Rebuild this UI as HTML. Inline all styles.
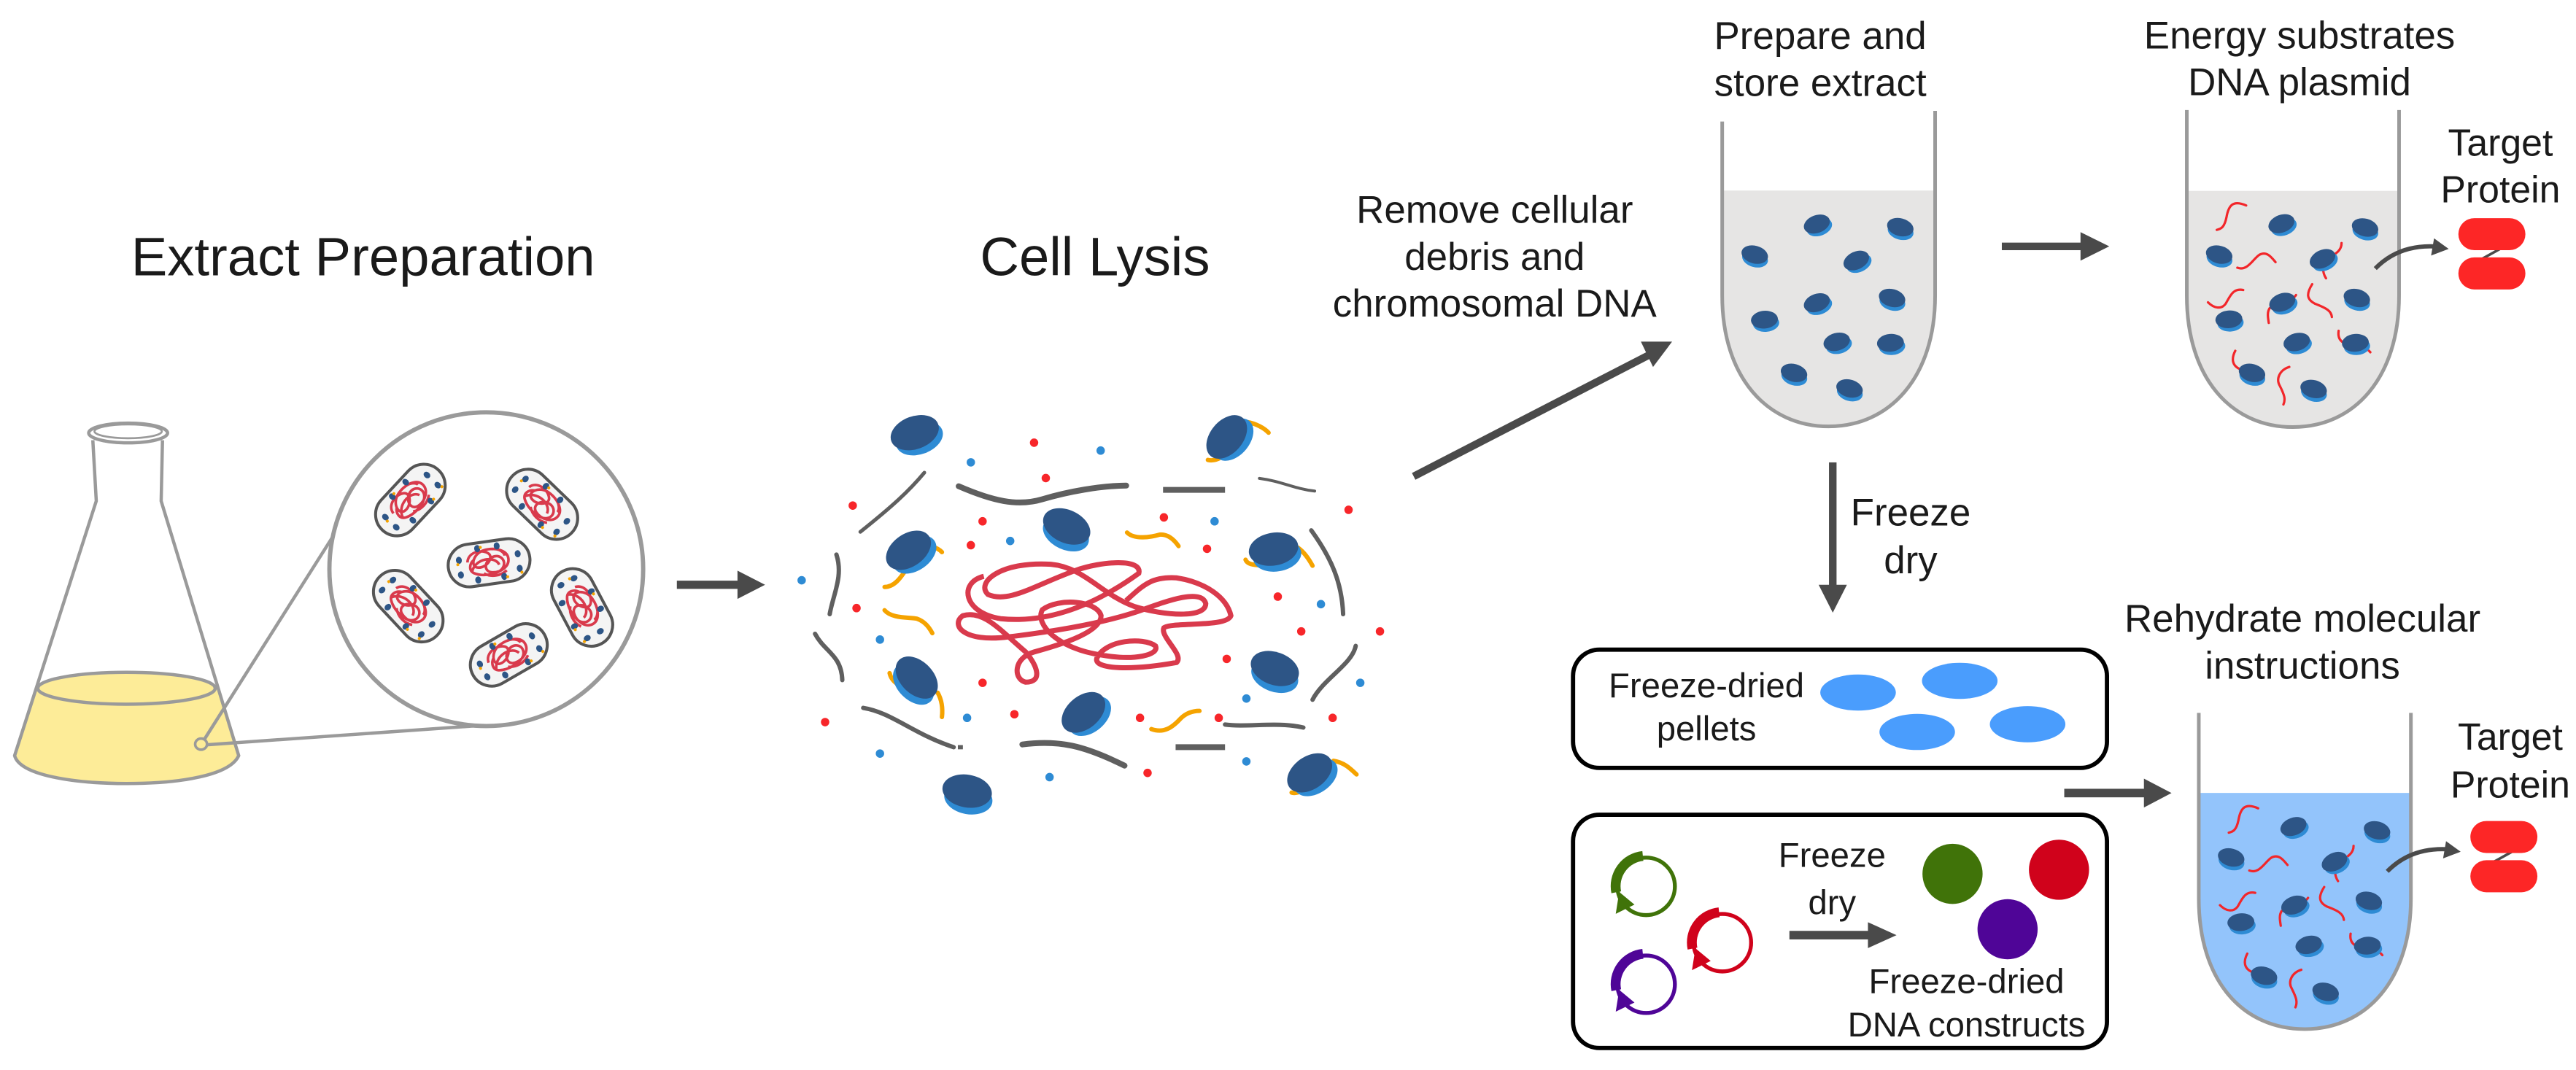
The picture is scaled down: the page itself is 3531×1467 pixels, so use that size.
<!DOCTYPE html>
<html><head><meta charset="utf-8"><style>
html,body{margin:0;padding:0;background:#fff;}
svg{display:block;}
text{font-family:"Liberation Sans",Arial,sans-serif;fill:#1a1a1a;}
</style></head><body>
<svg width="3531" height="1467" viewBox="0 0 1568 651.4" preserveAspectRatio="none" xmlns="http://www.w3.org/2000/svg" xmlns:xlink="http://www.w3.org/1999/xlink">
<defs>
<g id="rb"><ellipse cx="0.8" cy="2.3" rx="8" ry="5.2" fill="#2e8bd4"/><ellipse cx="0" cy="0" rx="8.2" ry="5.4" fill="#2d5586"/></g>
<g id="cap">
<rect x="-25" y="-13" width="50" height="26" rx="13" fill="#f4f4f4" stroke="#555" stroke-width="1.8"/>
<path d="M-13,-2 C-12,-8 -4,-9 0,-6 C4,-3 -2,3 -7,2 C-12,1 -9,-7 -2,-8 C5,-9 12,-6 12,-1 C12,4 6,7 1,6 C-4,5 -3,-1 2,-3 C7,-5 11,0 8,4 C5,8 -5,8 -10,5 C-13,3 -12,-1 -9,-3 M-4,6 C0,9 6,9 10,6 M3,-8 C7,-8 10,-5 10,-3 M-11,4 C-8,-4 4,-4 6,2" fill="none" stroke="#d93a4c" stroke-width="1.6"/>
<g fill="#2d5586"><ellipse cx="-18" cy="-4" rx="1.8" ry="2.2"/><ellipse cx="-18" cy="5" rx="1.8" ry="2.2"/><ellipse cx="-6" cy="-9.5" rx="1.8" ry="2.2"/><ellipse cx="8" cy="9.5" rx="1.8" ry="2.2"/><ellipse cx="18" cy="-3" rx="1.8" ry="2.2"/><ellipse cx="18" cy="6" rx="1.8" ry="2.2"/><ellipse cx="-8" cy="9.5" rx="1.8" ry="2.2"/><ellipse cx="6" cy="-9.5" rx="1.8" ry="2.2"/></g>
<g fill="#f5a300"><circle cx="-19" cy="-1.5" r="0.9"/><circle cx="19" cy="8.5" r="0.9"/><circle cx="-4" cy="-10" r="0.9"/><circle cx="10" cy="10" r="0.9"/></g>
</g>
<g id="pl">
<circle cx="0" cy="0" r="17.5" fill="none" stroke="currentColor" stroke-width="2.4"/>
<path d="M-2,-18.5 A18.5,18.5 0 0 0 -18.2,3.6" fill="none" stroke="currentColor" stroke-width="6"/>
<polygon points="-18.5,16.7 -16.4,3.4 -7.1,11.1" fill="currentColor"/>
</g>
<g id="tc">
<g transform="translate(1287.7,0) scale(0.1787)" fill="none" stroke="#f2262a" stroke-width="8" stroke-linecap="round">
<path d="M445,700 C400,680 385,700 378,740 C370,780 355,780 345,783"/>
<path d="M415,912 C450,925 470,880 490,868 C515,855 530,875 545,893"/>
<path d="M770,828 C770,850 755,865 720,880 C700,890 705,930 717,948"/>
<path d="M435,988 C400,980 390,1010 375,1035 C360,1055 335,1050 315,1030"/>
<path d="M670,968 C650,1000 650,1020 680,1035 C720,1050 735,1060 737,1080"/>
<path d="M615,1005 C600,1030 540,1040 525,1050 C515,1065 520,1085 522,1100"/>
<path d="M760,1127 C755,1160 775,1175 820,1178 C845,1180 860,1190 868,1200"/>
<path d="M408,1195 C395,1220 395,1245 425,1258 C460,1270 480,1290 480,1305"/>
<path d="M592,1250 C560,1260 545,1290 560,1315 C575,1345 580,1360 572,1378"/>
</g>
<use xlink:href="#rb" transform="translate(1388.7,136.2) rotate(-20)"/>
<use xlink:href="#rb" transform="translate(1439.6,138.5) rotate(15)"/>
<use xlink:href="#rb" transform="translate(1350.8,155) rotate(15)"/>
<use xlink:href="#rb" transform="translate(1413.7,157.6) rotate(-25)"/>
<use xlink:href="#rb" transform="translate(1389.2,184) rotate(-20)"/>
<use xlink:href="#rb" transform="translate(1434.6,181.4) rotate(15)"/>
<use xlink:href="#rb" transform="translate(1356.7,194.4) rotate(-5)"/>
<use xlink:href="#rb" transform="translate(1398,208.2) rotate(-15)"/>
<use xlink:href="#rb" transform="translate(1433.7,208.7) rotate(-5)"/>
<use xlink:href="#rb" transform="translate(1370.8,227) rotate(15)"/>
<use xlink:href="#rb" transform="translate(1408.3,236.8) rotate(15)"/>
<path d="M1445.8,163.5 Q1460,149 1482,150" fill="none" stroke="#4a4a4a" stroke-width="2.6"/>
<polygon points="1490.5,151.5 1481.6,145.1 1479.8,155.6" fill="#4a4a4a"/>
<line x1="1521.8" y1="151.5" x2="1511" y2="157.5" stroke="#4a4a4a" stroke-width="1.6"/>
<rect x="1496.4" y="132.8" width="40.8" height="19.5" rx="9.75" fill="#fd2626"/>
<rect x="1496.4" y="156.7" width="40.8" height="19.5" rx="9.75" fill="#fd2626"/>
</g>
</defs>

<text x="221" y="167.6" font-size="33" text-anchor="middle">Extract Preparation</text>
<text x="666.5" y="167.6" font-size="33" text-anchor="middle">Cell Lysis</text>

<path d="M22.7,419 A54,9.7 0 0 1 131.8,419 L145.3,460 C140,472 110,477 77,477 C45,477 12,472 8.9,460 Z" fill="#fdec98"/>
<ellipse cx="77" cy="419" rx="54" ry="9.7" fill="none" stroke="#9a9a9a" stroke-width="2"/>
<path d="M56.5,268 L58.6,305 L8.9,460 C12,472 45,477 77,477 C110,477 140,472 145.3,460 L98.1,305 L98.9,268" fill="none" stroke="#9a9a9a" stroke-width="2"/>
<ellipse cx="78" cy="263.6" rx="24" ry="6" fill="#fff" stroke="#9a9a9a" stroke-width="2"/>
<ellipse cx="78" cy="262.6" rx="20.5" ry="4.2" fill="none" stroke="#9a9a9a" stroke-width="1.2"/>
<ellipse cx="122.4" cy="453" rx="3.6" ry="3.4" fill="none" stroke="#9a9a9a" stroke-width="1.6"/>
<line x1="124.6" y1="449.8" x2="206.5" y2="320.5" stroke="#9a9a9a" stroke-width="2"/>
<line x1="126" y1="453.4" x2="288" y2="442" stroke="#9a9a9a" stroke-width="2"/>
<circle cx="296" cy="346.5" r="95.5" fill="#fff" stroke="#9a9a9a" stroke-width="2.6"/>
<use xlink:href="#cap" transform="translate(249.8,304.4) rotate(-47)"/>
<use xlink:href="#cap" transform="translate(330,307) rotate(44)"/>
<use xlink:href="#cap" transform="translate(297.7,342.6) rotate(-8)"/>
<use xlink:href="#cap" transform="translate(248.5,369) rotate(47)"/>
<use xlink:href="#cap" transform="translate(354.3,369.8) rotate(62)"/>
<use xlink:href="#cap" transform="translate(309.7,398.7) rotate(-30)"/>

<rect x="412" y="353.5" width="38" height="5" fill="#4a4a4a"/>
<polygon points="448.9,347.4 465.7,356 448.9,364.6" fill="#4a4a4a"/>

<g transform="translate(466.3,222) scale(0.2549,0.1841)">
<g fill="none" stroke="#5f5f5f" stroke-linecap="round">
<path vector-effect="non-scaling-stroke" stroke-width="5" d="M378,357 C340,420 300,470 225,553"/>
<path vector-effect="non-scaling-stroke" stroke-width="8" d="M460,402 C540,450 600,470 660,445 C720,420 800,400 860,400"/>
<path vector-effect="non-scaling-stroke" stroke-width="8" stroke-linecap="butt" d="M948,414 L1096,414"/>
<path vector-effect="non-scaling-stroke" stroke-width="4" d="M1178,376 C1230,385 1260,410 1310,418"/>
<path vector-effect="non-scaling-stroke" stroke-width="6" d="M1302,548 C1350,640 1375,720 1378,825"/>
<path vector-effect="non-scaling-stroke" stroke-width="6" d="M168,628 C185,700 160,760 152,825"/>
<path vector-effect="non-scaling-stroke" stroke-width="6" d="M117,890 C140,950 180,960 182,1043"/>
<path vector-effect="non-scaling-stroke" stroke-width="6" d="M1408,930 C1400,990 1330,1040 1305,1108"/>
<path vector-effect="non-scaling-stroke" stroke-width="6" d="M232,1135 C300,1150 350,1220 448,1265"/>
<path vector-effect="non-scaling-stroke" stroke-width="8" d="M612,1256 C700,1240 760,1260 856,1326"/>
<path vector-effect="non-scaling-stroke" stroke-width="8" stroke-linecap="butt" d="M978,1265 L1096,1265"/>
<path vector-effect="non-scaling-stroke" stroke-width="6" d="M1096,1190 C1150,1200 1220,1180 1283,1200"/>
</g>
<rect x="458" y="1258" width="12" height="14" fill="#5f5f5f"/>
<path d="M520,700 C460,720 470,820 560,840 C700,860 820,760 890,690 C900,640 800,650 740,680 C640,730 580,790 530,760 C500,720 560,650 680,660 C760,670 800,760 880,800 C950,830 1050,840 1050,790 C1040,740 960,780 900,810 C820,850 700,880 580,900 C470,920 440,860 470,830 C520,810 560,880 620,950 C650,1000 660,1050 620,1050 C590,1040 590,970 640,950 C720,920 800,880 800,830 C790,780 700,770 660,810 C640,860 700,940 800,960 C880,980 940,960 930,930 C900,900 810,910 790,970 C780,1010 880,1010 980,985 C1000,960 940,900 950,870 C970,850 1100,870 1110,830 C1100,770 1050,720 980,705 C920,700 900,730 860,780" fill="none" stroke="#d93a4c" stroke-width="7" vector-effect="non-scaling-stroke"/>
<g fill="none" stroke="#f5a300" stroke-linecap="round">
<path vector-effect="non-scaling-stroke" stroke-width="6" d="M862,555 C880,580 920,570 940,562 C960,560 975,580 985,600"/>
<path vector-effect="non-scaling-stroke" stroke-width="6" d="M283,812 C300,840 340,835 360,840 C380,850 390,870 397,888"/>
<path vector-effect="non-scaling-stroke" stroke-width="6" d="M920,1205 C950,1220 970,1200 990,1170 C1005,1150 1020,1145 1035,1145"/>
<path vector-effect="non-scaling-stroke" stroke-width="6" d="M1150,190 C1170,195 1190,210 1200,225"/>
<path vector-effect="non-scaling-stroke" stroke-width="6" d="M1105,285 C1090,310 1070,320 1055,315"/>
<path vector-effect="non-scaling-stroke" stroke-width="6" d="M395,600 C405,605 415,612 420,620"/>
<path vector-effect="non-scaling-stroke" stroke-width="6" d="M340,665 C320,710 305,735 283,735"/>
<path vector-effect="non-scaling-stroke" stroke-width="6" d="M295,1020 C300,1050 320,1065 340,1070"/>
<path vector-effect="non-scaling-stroke" stroke-width="6" d="M410,1085 C420,1110 422,1140 420,1165"/>
<path vector-effect="non-scaling-stroke" stroke-width="6" d="M1270,605 C1285,620 1295,640 1305,665"/>
<path vector-effect="non-scaling-stroke" stroke-width="6" d="M1145,645 C1150,665 1180,665 1200,660"/>
<path vector-effect="non-scaling-stroke" stroke-width="6" d="M1355,1310 C1380,1315 1395,1335 1410,1355"/>
<path vector-effect="non-scaling-stroke" stroke-width="6" d="M1300,1390 C1285,1410 1265,1420 1255,1415"/>
</g>
<g fill="#f7262a">
<ellipse cx="640" cy="258" rx="10" ry="14"/><ellipse cx="668" cy="375" rx="10" ry="14"/><ellipse cx="207" cy="466" rx="10" ry="14"/><ellipse cx="517" cy="518" rx="10" ry="14"/><ellipse cx="489" cy="597" rx="10" ry="14"/><ellipse cx="950" cy="505" rx="10" ry="14"/><ellipse cx="1053" cy="609" rx="10" ry="14"/><ellipse cx="1391" cy="480" rx="10" ry="14"/><ellipse cx="216" cy="805" rx="10" ry="14"/><ellipse cx="1222" cy="767" rx="10" ry="14"/><ellipse cx="1278" cy="882" rx="10" ry="14"/><ellipse cx="1466" cy="882" rx="10" ry="14"/><ellipse cx="1100" cy="973" rx="10" ry="14"/><ellipse cx="517" cy="1052" rx="10" ry="14"/><ellipse cx="141" cy="1182" rx="10" ry="14"/><ellipse cx="593" cy="1156" rx="10" ry="14"/><ellipse cx="893" cy="1168" rx="10" ry="14"/><ellipse cx="1081" cy="1168" rx="10" ry="14"/><ellipse cx="1353" cy="1168" rx="10" ry="14"/><ellipse cx="911" cy="1350" rx="10" ry="14"/>
</g>
<g fill="#2e8bd4">
<ellipse cx="489" cy="323" rx="10" ry="14"/><ellipse cx="799" cy="284" rx="10" ry="14"/><ellipse cx="583" cy="583" rx="10" ry="14"/><ellipse cx="1071" cy="518" rx="10" ry="14"/><ellipse cx="85" cy="713" rx="10" ry="14"/><ellipse cx="1325" cy="792" rx="10" ry="14"/><ellipse cx="272" cy="909" rx="10" ry="14"/><ellipse cx="1419" cy="1052" rx="10" ry="14"/><ellipse cx="1147" cy="1104" rx="10" ry="14"/><ellipse cx="480" cy="1168" rx="10" ry="14"/><ellipse cx="272" cy="1286" rx="10" ry="14"/><ellipse cx="677" cy="1364" rx="10" ry="14"/><ellipse cx="1147" cy="1312" rx="10" ry="14"/>
</g>
</g>
<use xlink:href="#rb" transform="translate(556.8,263.4) rotate(-20) scale(1.85)"/>
<use xlink:href="#rb" transform="translate(746.7,266) rotate(-50) scale(1.85)"/>
<use xlink:href="#rb" transform="translate(553,335) rotate(-35) scale(1.85)"/>
<use xlink:href="#rb" transform="translate(649.3,320.5) rotate(25) scale(1.85)"/>
<use xlink:href="#rb" transform="translate(775.2,334.3) rotate(-10) scale(1.85)"/>
<use xlink:href="#rb" transform="translate(558,412.5) rotate(45) scale(1.85)"/>
<use xlink:href="#rb" transform="translate(659.5,433.7) rotate(-40) scale(1.85)"/>
<use xlink:href="#rb" transform="translate(776,407) rotate(20) scale(1.85)"/>
<use xlink:href="#rb" transform="translate(588.7,481.6) rotate(10) scale(1.85)"/>
<use xlink:href="#rb" transform="translate(797.2,470.5) rotate(-35) scale(1.85)"/>

<text x="909.8" y="135.6" font-size="23.5" text-anchor="middle">Remove cellular</text>
<text x="909.8" y="164.2" font-size="23.5" text-anchor="middle">debris and</text>
<text x="909.8" y="192.7" font-size="23.5" text-anchor="middle">chromosomal DNA</text>
<line x1="860.5" y1="290" x2="1004" y2="216" stroke="#4a4a4a" stroke-width="4.6"/>
<polygon points="1017.8,208 998.8,208 1006.2,223.4" fill="#4a4a4a"/>

<text x="1108" y="29.7" font-size="23.5" text-anchor="middle">Prepare and</text>
<text x="1108" y="58.5" font-size="23.5" text-anchor="middle">store extract</text>
<path d="M1048.3,116 V180 C1048.3,230 1076,259.6 1113.1,259.6 C1150,259.6 1177.9,230 1177.9,180 V116 Z" fill="#e6e5e4"/>
<path d="M1048.3,74 V180 C1048.3,230 1076,259.6 1113.1,259.6 C1150,259.6 1177.9,230 1177.9,180 V67.5" fill="none" stroke="#9a9a9a" stroke-width="2.2"/>
<use xlink:href="#rb" transform="translate(1105.9,136.4) rotate(-20)"/>
<use xlink:href="#rb" transform="translate(1156.7,138.3) rotate(15)"/>
<use xlink:href="#rb" transform="translate(1068.1,155) rotate(15)"/>
<use xlink:href="#rb" transform="translate(1129.9,158.6) rotate(-25)"/>
<use xlink:href="#rb" transform="translate(1105.9,184.3) rotate(-20)"/>
<use xlink:href="#rb" transform="translate(1151.7,181.4) rotate(15)"/>
<use xlink:href="#rb" transform="translate(1074,194.6) rotate(-5)"/>
<use xlink:href="#rb" transform="translate(1118,208.1) rotate(-15)"/>
<use xlink:href="#rb" transform="translate(1150.7,208.7) rotate(-5)"/>
<use xlink:href="#rb" transform="translate(1092,227) rotate(15)"/>
<use xlink:href="#rb" transform="translate(1125.8,236.5) rotate(15)"/>

<rect x="1218.5" y="147.7" width="48" height="4.6" fill="#4a4a4a"/>
<polygon points="1266.4,141.3 1283.9,150 1266.4,158.7" fill="#4a4a4a"/>

<text x="1399.7" y="29.5" font-size="23.5" text-anchor="middle">Energy substrates</text>
<text x="1399.7" y="58" font-size="23.5" text-anchor="middle">DNA plasmid</text>
<path d="M1331.1,116.2 V180 C1331.1,230 1358,260 1395.7,260 C1433,260 1460.3,230 1460.3,180 V116.2 Z" fill="#e6e5e4"/>
<path d="M1331.1,67 V180 C1331.1,230 1358,260 1395.7,260 C1433,260 1460.3,230 1460.3,180 V67" fill="none" stroke="#9a9a9a" stroke-width="2.2"/>
<use xlink:href="#tc"/>
<text x="1522" y="94.7" font-size="23" text-anchor="middle">Target</text>
<text x="1522" y="123.3" font-size="23" text-anchor="middle">Protein</text>

<rect x="1113.3" y="281.5" width="4.6" height="76" fill="#4a4a4a"/>
<polygon points="1107,356 1124.2,356 1115.6,373" fill="#4a4a4a"/>
<text x="1163" y="320" font-size="23.5" text-anchor="middle">Freeze</text>
<text x="1163" y="349" font-size="23.5" text-anchor="middle">dry</text>

<rect x="957.5" y="395.5" width="325" height="72" rx="16" fill="#fff" stroke="#000" stroke-width="2.6"/>
<text x="1038.7" y="424.6" font-size="21" text-anchor="middle">Freeze-dried</text>
<text x="1038.7" y="450.8" font-size="21" text-anchor="middle">pellets</text>
<g fill="#4a9dfd">
<ellipse cx="1131" cy="421.6" rx="23" ry="11"/><ellipse cx="1192.9" cy="414.5" rx="23" ry="11"/><ellipse cx="1167" cy="445.6" rx="23" ry="11"/><ellipse cx="1234.2" cy="440.9" rx="23" ry="11"/>
</g>

<rect x="957.5" y="496" width="325" height="142" rx="16" fill="#fff" stroke="#000" stroke-width="2.6"/>
<use xlink:href="#pl" transform="translate(1002,539.6)" style="color:#407309"/>
<use xlink:href="#pl" transform="translate(1048.4,573.9)" style="color:#d0021b"/>
<use xlink:href="#pl" transform="translate(1002,599.2)" style="color:#4f0597"/>
<text x="1115.2" y="527.7" font-size="21" text-anchor="middle">Freeze</text>
<text x="1115.2" y="556.6" font-size="21" text-anchor="middle">dry</text>
<rect x="1089.2" y="566.7" width="48" height="5.2" fill="#4a4a4a"/>
<polygon points="1137,561.4 1154.4,569.3 1137,577.2" fill="#4a4a4a"/>
<circle cx="1188.5" cy="532" r="18.3" fill="#407309"/>
<circle cx="1253.3" cy="529.5" r="18.3" fill="#d0021b"/>
<circle cx="1222" cy="565.7" r="18.3" fill="#4f0597"/>
<text x="1197" y="604.6" font-size="21" text-anchor="middle">Freeze-dried</text>
<text x="1197" y="630.9" font-size="21" text-anchor="middle">DNA constructs</text>

<rect x="1256.5" y="480.2" width="49" height="5.2" fill="#4a4a4a"/>
<polygon points="1305,474 1321.8,482.8 1305,491.6" fill="#4a4a4a"/>

<text x="1401.5" y="384.5" font-size="23.5" text-anchor="middle">Rehydrate molecular</text>
<text x="1401.5" y="413.2" font-size="23.5" text-anchor="middle">instructions</text>
<path d="M1338.4,482.7 V547 C1338.4,597 1365,626.5 1402.9,626.5 C1440,626.5 1467.5,597 1467.5,547 V482.7 Z" fill="#93c4fb"/>
<path d="M1338.4,434 V547 C1338.4,597 1365,626.5 1402.9,626.5 C1440,626.5 1467.5,597 1467.5,547 V434" fill="none" stroke="#9a9a9a" stroke-width="2.2"/>
<use xlink:href="#tc" transform="translate(7.3,367)"/>
<text x="1528" y="456.4" font-size="23" text-anchor="middle">Target</text>
<text x="1528" y="485.5" font-size="23" text-anchor="middle">Protein</text>
</svg>
</body></html>
